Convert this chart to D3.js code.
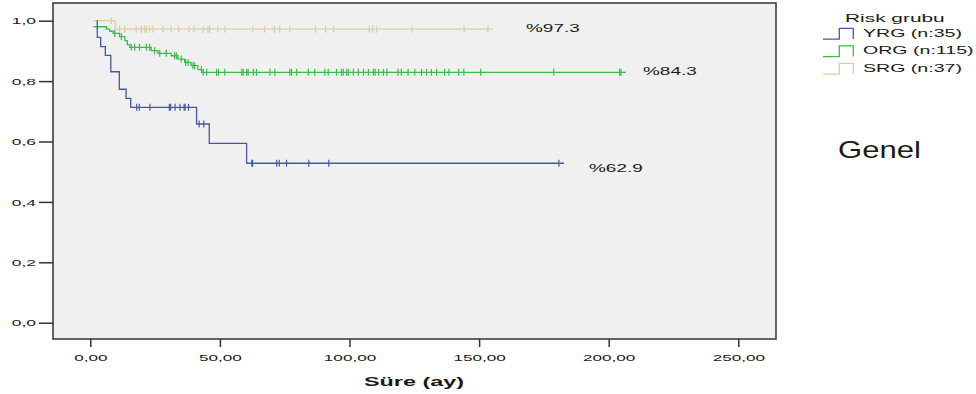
<!DOCTYPE html>
<html>
<head>
<meta charset="utf-8">
<script src="https://cdn.jsdelivr.net/npm/d3@7"></script>
<style>
  html, body { margin: 0; padding: 0; background: #fff; }
  svg { display: block; font-family: "Liberation Sans", Arial, sans-serif; }
</style>
</head>
<body>
<svg id="chart" width="976" height="394"></svg>
<script>
// risk groups (legend order)
const groups = ["YRG (n:35)", "ORG (n:115)", "SRG (n:37)"];
const legendTitle = "Risk grubu";

// Kaplan-Meier steps: [months, survival]
const yrgSteps = [[2.5, 1.0], [2.7, 0.945], [4.0, 0.914], [5.8, 0.885], [7.9, 0.831],
  [11.2, 0.773], [13.8, 0.743], [15.6, 0.713], [41.0, 0.658], [45.9, 0.594], [60.3, 0.528]];
const yrgCensored = [17.9, 18.9, 23.0, 30.5, 31.0, 32.7, 34.6, 36.2, 36.6, 37.9, 42.0, 43.8,
  62.3, 62.6, 71.9, 72.9, 75.7, 84.3, 92.0, 180.8];

const orgSteps = [[1.2, 0.980], [6.2, 0.972], [7.5, 0.965], [8.8, 0.958], [11.3, 0.947],
  [13.3, 0.934], [14.3, 0.921], [15.2, 0.912], [23.5, 0.901], [26.1, 0.892], [31.2, 0.884],
  [33.8, 0.873], [36.4, 0.862], [38.9, 0.851], [41.5, 0.838], [43.0, 0.829]];
const orgCensored = [9.4, 12.0, 15.8, 17.1, 19.0, 21.6, 22.9, 24.8, 26.8, 29.3, 32.5, 33.2,
  35.1, 36.8, 37.7, 39.6, 40.2, 42.9, 43.6, 44.9, 48.7, 49.4, 51.9, 58.4, 59.0, 60.3, 60.9,
  62.9, 64.1, 69.3, 71.2, 77.0, 77.6, 79.6, 84.1, 86.6, 90.5, 91.8, 95.0, 96.9, 97.6, 98.9,
  99.6, 101.5, 103.4, 105.4, 107.3, 109.2, 109.9, 111.2, 113.1, 114.4, 118.7, 120.0, 122.6,
  125.2, 127.8, 129.7, 131.6, 133.6, 136.7, 138.4, 142.1, 144.1, 150.6, 178.8, 204.2, 204.7];

const srgSteps = [[1.2, 1.0], [9.6, 0.972]];
const srgCensored = [8.1, 11.3, 13.3, 17.7, 19.7, 21.0, 21.6, 22.9, 24.2, 28.0, 31.2, 34.1,
  38.1, 40.0, 43.5, 45.4, 46.0, 49.2, 52.0, 62.7, 67.2, 71.0, 73.1, 77.0, 86.9, 90.7, 93.9,
  107.6, 108.9, 110.5, 124.1, 144.2, 153.4];

// end-of-curve annotations
const endLabels = ["%62.9", "%84.3", "%97.3"];

const xTicks = [0, 50, 100, 150, 200, 250];
const yTicks = [0, 0.2, 0.4, 0.6, 0.8, 1.0];
const xTitle = "Süre (ay)";
const sideNote = "Genel";

const colors = ["#4558a8", "#3cba4c", "#d8cf9e"];

const series = [
  { steps: yrgSteps, censored: yrgCensored },
  { steps: orgSteps, censored: orgCensored },
  { steps: srgSteps, censored: srgCensored },
];

// layout
const frame = { left: 53, top: 3, right: 776, bottom: 339 };
const x = d3.scaleLinear().domain([0, 250]).range([90.3, 738.3]);
const y = d3.scaleLinear().domain([0, 1]).range([322.7, 20.7]);
const tailPx = 5; // SPSS draws the line a little past the last mark

const svg = d3.select("#chart");

// text in the source is stretched sideways, so scale it horizontally
function stretchedText(g, str, px, py, size, sx, anchor, weight) {
  return g.append("text")
    .attr("transform", `translate(${px},${py}) scale(${sx},1)`)
    .attr("text-anchor", anchor || "start")
    .attr("font-size", size)
    .attr("font-weight", weight || "normal")
    .attr("fill", "#1a1a1a")
    .text(str);
}

// plot background + frame
svg.append("rect")
  .attr("x", frame.left).attr("y", frame.top)
  .attr("width", frame.right - frame.left)
  .attr("height", frame.bottom - frame.top)
  .attr("fill", "#f0f0f0")
  .attr("stroke", "#333").attr("stroke-width", 1.5);

// axes
const fmtX = (d) => d3.format(".2f")(d).replace(".", ",");
const fmtY = (d) => d3.format(".1f")(d).replace(".", ",");

const gx = svg.append("g")
  .attr("transform", `translate(0,${frame.bottom})`)
  .call(d3.axisBottom(x).tickValues(xTicks).tickSize(8).tickFormat(fmtX));
gx.select(".domain").remove();
gx.selectAll(".tick line").attr("stroke", "#333").attr("stroke-width", 1.5);
gx.selectAll(".tick text")
  .attr("y", null).attr("dy", null)
  .attr("transform", "translate(0,22) scale(1.8,1)")
  .attr("font-size", 9.5)
  .attr("font-family", "Liberation Sans, Arial, sans-serif")
  .attr("fill", "#1a1a1a");

const gy = svg.append("g")
  .attr("transform", `translate(${frame.left},0)`)
  .call(d3.axisLeft(y).tickValues(yTicks).tickSize(14).tickFormat(fmtY));
gy.select(".domain").remove();
gy.selectAll(".tick line").attr("stroke", "#333").attr("stroke-width", 1.5);
gy.selectAll(".tick text")
  .attr("x", null).attr("dy", null)
  .attr("transform", "translate(-17,3.2) scale(2,1)")
  .attr("font-size", 8.7)
  .attr("font-family", "Liberation Sans, Arial, sans-serif")
  .attr("fill", "#1a1a1a");

stretchedText(svg, xTitle, 414, 386, 12, 1.95, "middle", "bold");

// survival curves
const survAt = (steps, t) => {
  let s = steps[0][1];
  for (const [ti, si] of steps) if (ti <= t) s = si;
  return s;
};

const line = d3.line()
  .x((d) => x(d[0]))
  .y((d) => y(d[1]))
  .curve(d3.curveStepAfter);

const curves = svg.append("g");
// draw SRG first so YRG sits on top like the original
[2, 1, 0].forEach((i) => {
  const { steps, censored } = series[i];
  const tEnd = Math.max(steps[steps.length - 1][0], d3.max(censored));
  const pts = steps.concat([[x.invert(x(tEnd) + tailPx), steps[steps.length - 1][1]]]);
  const g = curves.append("g").attr("stroke", colors[i]).attr("fill", "none");
  g.append("path")
    .attr("d", line(pts))
    .attr("stroke-width", 1.3);
  g.selectAll("line")
    .data(censored)
    .join("line")
    .attr("x1", (t) => x(t)).attr("x2", (t) => x(t))
    .attr("y1", (t) => y(survAt(steps, t)) - 3.5)
    .attr("y2", (t) => y(survAt(steps, t)) + 3.5)
    .attr("stroke-width", 1.2);
});

// end labels (placed near curve ends, as in the source)
const labelPos = [[589, 171.5], [643, 74.5], [526, 31.5]];
endLabels.forEach((txt, i) => {
  stretchedText(svg, txt, labelPos[i][0], labelPos[i][1], 11.5, 1.65, "start");
});

// legend
const legend = svg.append("g");
stretchedText(legend, legendTitle, 845, 21.5, 11.6, 1.8, "start");
groups.forEach((name, i) => {
  const top = 28.3 + i * 17.5;
  const bot = top + 10.8;
  legend.append("path")
    .attr("d", `M823,${bot} H839.3 V${top} H853.3 V${bot}`)
    .attr("fill", "none")
    .attr("stroke", colors[i])
    .attr("stroke-width", 1.3);
  stretchedText(legend, name, 863, top + 8.4, 11, 1.78, "start");
});

stretchedText(svg, sideNote, 838, 158, 23, 1.35, "start");
</script>
</body>
</html>
